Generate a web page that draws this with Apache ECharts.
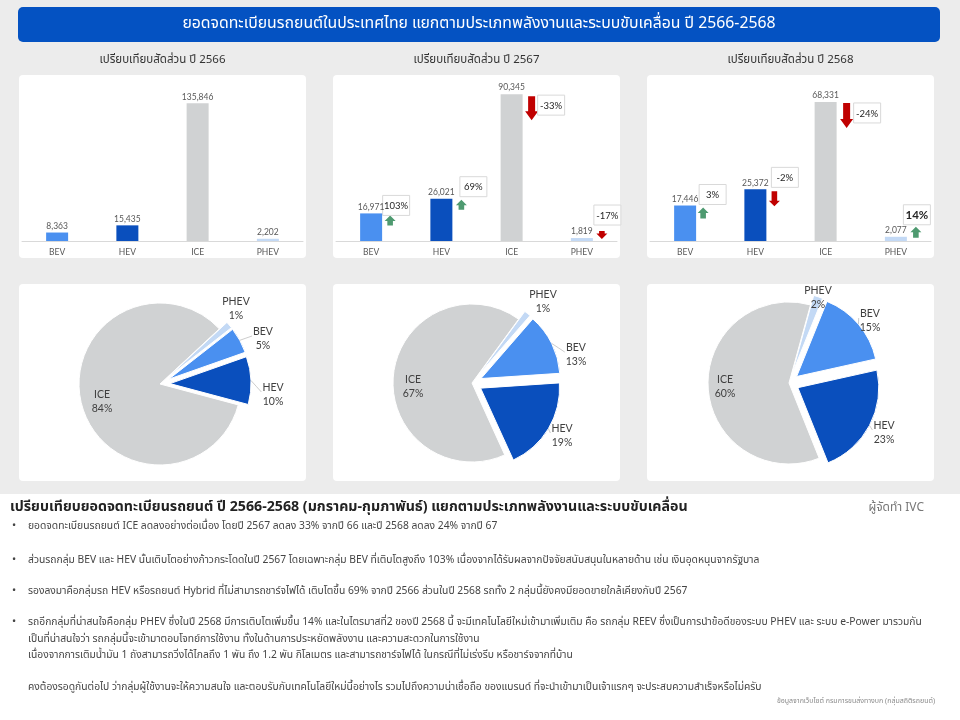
<!DOCTYPE html>
<html>
<head>
<meta charset="utf-8">
<script src="https://cdn.jsdelivr.net/npm/echarts@6/dist/echarts.min.js"></script>
<style>
  html, body { margin: 0; padding: 0; background: #ececec; }
  #chart { width: 960px; height: 720px; }
</style>
</head>
<body>
<div id="chart"></div>
<script>
// ---------------- DATA ----------------
const categories = ['BEV', 'HEV', 'ICE', 'PHEV'];
const years = ['2566', '2567', '2568'];
const values2566 = [8363, 15435, 135846, 2202];
const values2567 = [16971, 26021, 90345, 1819];
const values2568 = [17446, 25372, 68331, 2077];
const change2567 = ['103%', '69%', '-33%', '-17%'];
const change2568 = ['3%', '-2%', '-24%', '14%'];

const mainTitle = 'ยอดจดทะเบียนรถยนต์ในประเทศไทย แยกตามประเภทพลังงานและระบบขับเคลื่อน ปี 2566-2568';
const panelTitlePrefix = 'เปรียบเทียบสัดส่วน ปี ';
const summaryHeading = 'เปรียบเทียบยอดจดทะเบียนรถยนต์ ปี 2566-2568 (มกราคม-กุมภาพันธ์) แยกตามประเภทพลังงานและระบบขับเคลื่อน';
const author = 'ผู้จัดทำ IVC';
const bullets = [
  'ยอดจดทะเบียนรถยนต์ ICE ลดลงอย่างต่อเนื่อง โดยปี 2567 ลดลง 33% จากปี 66 และปี 2568 ลดลง 24% จากปี 67',
  'ส่วนรถกลุ่ม BEV และ HEV นั้นเติบโตอย่างก้าวกระโดดในปี 2567 โดยเฉพาะกลุ่ม BEV ที่เติบโตสูงถึง 103% เนื่องจากได้รับผลจากปัจจัยสนับสนุนในหลายด้าน เช่น เงินอุดหนุนจากรัฐบาล',
  'รองลงมาคือกลุ่มรถ HEV หรือรถยนต์ Hybrid ที่ไม่สามารถชาร์จไฟได้ เติบโตขึ้น 69% จากปี 2566 ส่วนในปี 2568 รถทั้ง 2 กลุ่มนี้ยังคงมียอดขายใกล้เคียงกับปี 2567',
  'รถอีกกลุ่มที่น่าสนใจคือกลุ่ม PHEV ซึ่งในปี 2568 มีการเติบโตเพิ่มขึ้น 14% และในไตรมาสที่2 ของปี 2568 นี้ จะมีเทคโนโลยีใหม่เข้ามาเพิ่มเติม คือ รถกลุ่ม REEV ซึ่งเป็นการนำข้อดีของระบบ PHEV และ ระบบ e-Power มารวมกัน'
];
const continuation = [
  'เป็นที่น่าสนใจว่า รถกลุ่มนี้จะเข้ามาตอบโจทย์การใช้งาน ทั้งในด้านการประหยัดพลังงาน และความสะดวกในการใช้งาน',
  'เนื่องจากการเติมน้ำมัน 1 ถังสามารถวิ่งได้ไกลถึง 1 พัน ถึง 1.2 พัน กิโลเมตร และสามารถชาร์จไฟได้ ในกรณีที่ไม่เร่งรีบ หรือชาร์จจากที่บ้าน'
];
const closing = 'คงต้องรอดูกันต่อไป ว่ากลุ่มผู้ใช้งานจะให้ความสนใจ และตอบรับกับเทคโนโลยีใหม่นี้อย่างไร รวมไปถึงความน่าเชื่อถือ ของแบรนด์ ที่จะนำเข้ามาเป็นเจ้าแรกๆ จะประสบความสำเร็จหรือไม่ครับ';
const sourceNote = 'ข้อมูลจากเว็บไซต์ กรมการขนส่งทางบก (กลุ่มสถิติรถยนต์)';

// ---------------- STYLE / LAYOUT ----------------
const colors = { BEV: '#4a90f0', HEV: '#0a4fbd', ICE: '#d0d2d3', PHEV: '#c3d9f5' };
const upColor = '#4e9a70', downColor = '#c00000';
const latin = 'Lato, "Open Sans", "Noto Sans", sans-serif';
const thai = '"Noto Sans Thai", "Noto Sans", sans-serif';

const barPanels = [
  { left: 22, yMax: 150000 },
  { left: 336, yMax: 93500 },
  { left: 650, yMax: 74700 }
];
// annotation placement relative to each bar's top (pixels)
const annotLayout2567 = [
  { ax: 19, ay: 2, len: 10, bx: 25, by: -18 },
  { ax: 20, ay: 1, len: 10, bx: 32, by: -22 },
  { ax: 20, ay: 2, len: 24, bx: 39.5, by: 1, big: true },
  { ax: 20, ay: -7, len: 8, bx: 25.5, by: -33 }
];
const annotLayout2568 = [
  { ax: 18, ay: 2, len: 11, bx: 27.5, by: -21 },
  { ax: 19, ay: 2, len: 15, bx: 29.5, by: -22 },
  { ax: 21, ay: 1, len: 25, bx: 41.5, by: 1, big: true },
  { ax: 20, ay: -10, len: 11, bx: 21, by: -32, fs: 11.5, fw: 'bold' }
];
const pieLayout = [
  { center: [160, 384], r: 81, start: 38 },
  { center: [472, 383], r: 79, start: 49 },
  { center: [789, 383], r: 81, start: 68 }
];
const explode = 10;
const pieLabelPos = [
  [[263, 339], [273, 395], [102, 402], [236, 309]],
  [[576, 355], [562, 436], [413, 387], [543, 302]],
  [[870, 321], [884, 433], [725, 387], [818, 298]]
];

const chart = echarts.init(document.getElementById('chart'), null, { renderer: 'canvas' });

const allValues = [values2566, values2567, values2568];
const allChanges = [null, change2567, change2568];
const allAnnot = [null, annotLayout2567, annotLayout2568];

const grids = [], xAxes = [], yAxes = [], series = [];

barPanels.forEach((p, k) => {
  grids.push({ left: p.left, top: 89, width: 281, height: 152 });
  xAxes.push({
    type: 'category', gridIndex: k, data: categories,
    axisLine: { lineStyle: { color: '#d9d9d9' } },
    axisTick: { show: false },
    axisLabel: { color: '#595959', fontSize: 8.5, fontFamily: latin, margin: 7 }
  });
  yAxes.push({ type: 'value', gridIndex: k, min: 0, max: p.yMax, show: false, splitLine: { show: false } });
  series.push({
    type: 'bar', xAxisIndex: k, yAxisIndex: k, barWidth: 22, silent: true, z: 6,
    data: allValues[k].map((v, i) => ({ value: v, itemStyle: { color: colors[categories[i]] } })),
    label: {
      show: true, position: 'top', distance: 2, color: '#595959', fontSize: 8.5, fontFamily: latin,
      formatter: (prm) => prm.value.toLocaleString('en-US')
    }
  });
  if (allChanges[k]) {
    const changes = allChanges[k], layout = allAnnot[k];
    series.push({
      type: 'custom', xAxisIndex: k, yAxisIndex: k, silent: true, clip: false, z: 5,
      data: allValues[k].map((v, i) => [i, v]),
      renderItem: (params, api) => {
        const i = params.dataIndex;
        const p0 = api.coord([api.value(0), api.value(1)]);
        const L = layout[i];
        const up = changes[i].charAt(0) !== '-';
        const ax = p0[0] + L.ax, ay = p0[1] + L.ay, len = L.len;
        const hw = L.big ? 6.5 : 5.5, sw = L.big ? 3.5 : 2.8, hh = L.big ? 9 : 5.5;
        let pts;
        if (up) {
          pts = [[ax, ay], [ax + hw, ay + hh], [ax + sw, ay + hh], [ax + sw, ay + len], [ax - sw, ay + len], [ax - sw, ay + hh], [ax - hw, ay + hh]];
        } else {
          pts = [[ax, ay + len], [ax + hw, ay + len - hh], [ax + sw, ay + len - hh], [ax + sw, ay], [ax - sw, ay], [ax - sw, ay + len - hh], [ax - hw, ay + len - hh]];
        }
        return {
          type: 'group',
          children: [
            { type: 'polygon', shape: { points: pts }, style: { fill: up ? upColor : downColor } },
            { type: 'rect', shape: { x: p0[0] + L.bx - 13.5, y: p0[1] + L.by, width: 27, height: 20 },
              style: { fill: '#ffffff', stroke: '#d9d9d9', lineWidth: 1 } },
            { type: 'text', x: p0[0] + L.bx, y: p0[1] + L.by + 10.5,
              style: { text: changes[i], align: 'center', verticalAlign: 'middle', fontSize: L.fs || 9.5,
                       fontWeight: L.fw || 'normal', fill: '#262626', fontFamily: latin } }
          ]
        };
      }
    });
  }
});

// mid-angle (deg) of each slice, derived from the data
function midAngles(values, start) {
  const total = values.reduce((a, b) => a + b, 0);
  let cum = 0;
  return values.map(v => {
    const a = start - 360 * (cum + v / 2) / total;
    cum += v;
    return a;
  });
}

pieLayout.forEach((pl, k) => {
  const pieData = allValues[k].map((v, i) => ({
    name: categories[i], value: v,
    selected: categories[i] !== 'ICE',
    itemStyle: { color: colors[categories[i]] }
  }));
  // visible (exploded) pie
  series.push({
    type: 'pie', center: pl.center, radius: pl.r, startAngle: pl.start, clockwise: true,
    selectedMode: 'multiple', selectedOffset: explode, silent: true,
    itemStyle: { borderColor: '#ffffff', borderWidth: 1 },
    emphasis: { disabled: true },
    label: { show: false }, labelLine: { show: false },
    data: pieData
  });
  // label-carrying pie (transparent slices)
  const mids = midAngles(allValues[k], pl.start);
  series.push({
    type: 'pie', center: pl.center, radius: pl.r, startAngle: pl.start, clockwise: true,
    silent: true, percentPrecision: 0, avoidLabelOverlap: false, z: 4,
    itemStyle: { color: 'rgba(0,0,0,0)', borderWidth: 0 },
    emphasis: { disabled: true },
    label: { show: true, formatter: '{b}\n{d}%', color: '#404040', fontSize: 10.5, lineHeight: 14, fontFamily: latin },
    labelLine: { show: true, length: 4, length2: 4, lineStyle: { color: '#bfbfbf', width: 0.8 } },
    labelLayout: (params) => {
      const i = params.dataIndex;
      const pos = pieLabelPos[k][i];
      const out = { x: pos[0], y: pos[1], align: 'center', verticalAlign: 'middle' };
      const name = categories[i];
      if (name === 'BEV' || name === 'HEV') {
        const a = mids[i] * Math.PI / 180;
        const R = pl.r + explode;
        const p1 = [pl.center[0] + R * Math.cos(a), pl.center[1] - R * Math.sin(a)];
        const halfW = (params.labelRect ? params.labelRect.width : 22) / 2;
        const p3 = [pos[0] - halfW - 1, pos[1] - 3];
        out.labelLinePoints = [p1, [(p1[0] + p3[0]) / 2, (p1[1] + p3[1]) / 2], p3];
      }
      return out;
    },
    data: allValues[k].map((v, i) => ({
      name: categories[i], value: v,
      labelLine: { show: categories[i] === 'BEV' || categories[i] === 'HEV' }
    }))
  });
});

// decorative background elements and texts
const graphic = [];
graphic.push({ type: 'rect', shape: { x: 18, y: 7, width: 922, height: 35, r: 5 }, style: { fill: '#0452c2' }, z: -10 });
graphic.push({ type: 'text', x: 479, y: 24.5, style: { text: mainTitle, fill: '#ffffff', fontSize: 15.8, fontFamily: thai, align: 'center', verticalAlign: 'middle' } });
const panelX = [[19, 287], [333, 287], [647, 287]];
panelX.forEach((px, k) => {
  graphic.push({ type: 'rect', shape: { x: px[0], y: 75, width: px[1], height: 183, r: 4 }, style: { fill: '#ffffff' }, z: -10 });
  graphic.push({ type: 'rect', shape: { x: px[0], y: 284, width: px[1], height: 197, r: 4 }, style: { fill: '#ffffff' }, z: -10 });
  graphic.push({ type: 'text', x: px[0] + px[1] / 2, y: 61, style: { text: panelTitlePrefix + years[k], fill: '#333333', fontSize: 11.5, fontFamily: thai, align: 'center', verticalAlign: 'middle' } });
});
graphic.push({ type: 'rect', shape: { x: 0, y: 494, width: 960, height: 226 }, style: { fill: '#ffffff' }, z: -10 });
graphic.push({ type: 'text', x: 10, y: 508, style: { text: summaryHeading, fill: '#222222', fontSize: 14.2, fontWeight: 'bold', fontFamily: thai, verticalAlign: 'middle' } });
graphic.push({ type: 'text', x: 924, y: 509, style: { text: author, fill: '#777777', fontSize: 12, fontFamily: thai, align: 'right', verticalAlign: 'middle' } });
const bodySize = 10.3;
const bulletY = [527, 561, 592, 623];
bullets.forEach((t, i) => {
  graphic.push({ type: 'text', x: 12, y: bulletY[i], style: { text: '•', fill: '#444444', fontSize: 11, fontFamily: thai, verticalAlign: 'middle' } });
  graphic.push({ type: 'text', x: 28, y: bulletY[i], style: { text: t, fill: '#444444', fontSize: bodySize, fontFamily: thai, verticalAlign: 'middle' } });
});
const contY = [640, 656];
continuation.forEach((t, i) => {
  graphic.push({ type: 'text', x: 28, y: contY[i], style: { text: t, fill: '#444444', fontSize: bodySize, fontFamily: thai, verticalAlign: 'middle' } });
});
graphic.push({ type: 'text', x: 28, y: 688, style: { text: closing, fill: '#444444', fontSize: bodySize, fontFamily: thai, verticalAlign: 'middle' } });
graphic.push({ type: 'text', x: 935, y: 702, style: { text: sourceNote, fill: '#8a8a8a', fontSize: 7, fontFamily: thai, align: 'right', verticalAlign: 'middle' } });

chart.setOption({
  backgroundColor: '#ececec',
  animation: false,
  grid: grids,
  xAxis: xAxes,
  yAxis: yAxes,
  series: series,
  graphic: graphic
});
</script>
</body>
</html>
